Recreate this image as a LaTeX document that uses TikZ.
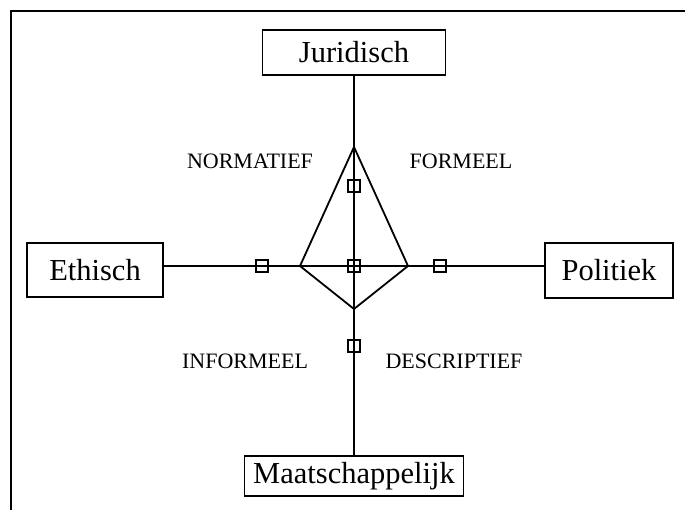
\documentclass[tikz,border=0pt]{standalone}
\usepackage{fontspec}
\setmainfont{Liberation Serif}
\begin{document}
\begin{tikzpicture}[x=1pt,y=-1pt,
  areabox/.style={draw,line width=1.6pt,inner sep=0pt,font=\fontsize{30.5}{36}\selectfont},
  axislabel/.style={inner sep=0pt,font=\fontsize{22}{26}\selectfont},
  marker/.style={draw,line width=1.5pt,minimum size=12pt,inner sep=0pt},
  axisline/.style={line width=1.8pt}]
\useasboundingbox (0,0) rectangle (685,510);

% outer frame (top and left edges)
\coordinate (fbl) at (11,512);
\coordinate (ftl) at (11,11);
\coordinate (ftr) at (687,11);
\draw[line width=2.6pt] (fbl) -- (ftl) -- (ftr);

% the four domains
\node[areabox,minimum width=183pt,minimum height=45pt] (jur) at (354,52.5) {Juridisch};
\node[areabox,minimum width=136pt,minimum height=54pt] (eth) at (95,270) {Ethisch};
\node[areabox,minimum width=128pt,minimum height=55pt] (pol) at (609,270.5) {Politiek};
\node[areabox,minimum width=219pt,minimum height=40pt] (maat) at (354,476) {Maatschappelijk};

% axes
\coordinate (c) at (354,266);
\draw[axisline] (jur.south) -- (maat.north);
\draw[axisline] (eth.east |- c) -- (pol.west |- c);

% kite
\coordinate (kt) at (354,147);
\coordinate (kl) at (300,266);
\coordinate (kr) at (408,266);
\coordinate (kb) at (354,309);
\draw[axisline,line join=miter] (kt) -- (kr) -- (kb) -- (kl) -- cycle;

% markers
\node[marker] (m1) at (354,186) {};
\node[marker] (m2) at (354,266) {};
\node[marker] (m3) at (262,266) {};
\node[marker] (m4) at (440,266) {};
\node[marker] (m5) at (354,346) {};

% quadrant labels
\node[axislabel] (l1) at (250,161) {NORMATIEF};
\node[axislabel] (l2) at (461,161) {FORMEEL};
\node[axislabel] (l3) at (245,361) {INFORMEEL};
\node[axislabel] (l4) at (454,361) {DESCRIPTIEF};
\end{tikzpicture}
\end{document}
